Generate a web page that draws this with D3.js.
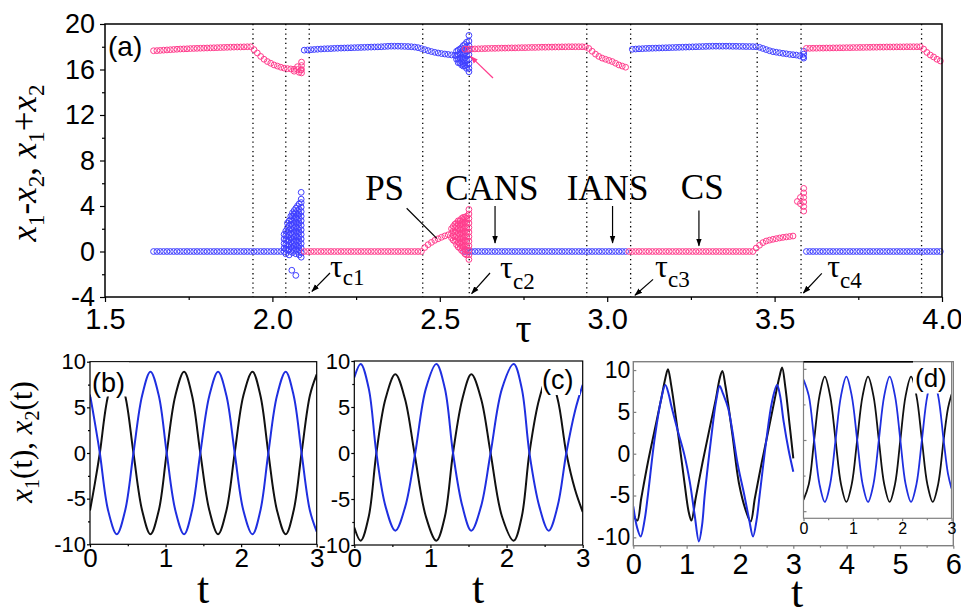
<!DOCTYPE html>
<html><head><meta charset="utf-8">
<script src="https://cdn.jsdelivr.net/npm/d3@7"></script>
<style>body{margin:0;background:#fff}svg{display:block}</style>
</head><body>
<svg id="chart" width="961" height="610"></svg>
<script>
// ================= DATA =================
const tauStep = 0.01;
const transitions = [1.942, 2.04, 2.11, 2.449, 2.588, 2.939, 3.07, 3.448, 3.579, 3.939];
const xTicksA = [1.5, 2.0, 2.5, 3.0, 3.5, 4.0];
const yTicksA = [-4, 0, 4, 8, 12, 16, 20];

// pink (upper branch)
const pinkTopAStart = 1.645;
const pinkTopA = [17.65,17.66,17.68,17.70,17.72,17.74,17.76,17.78,17.80,17.81,17.82,17.84,17.85,17.86,17.87,17.88,17.89,17.90,17.91,17.92,17.93,17.94,17.95,17.96,17.97,17.98,17.98,17.99,18.00,18.00,17.75,17.45,17.15,16.90,16.70,16.55,16.40,16.30,16.20,16.12,16.08,16.05,16.02,16.00,15.95];
const pinkTopAExtra = [[2.087,16.65],[2.087,16.35],[2.087,16.0],[2.087,15.7],[2.075,16.25],[2.065,15.85],[2.08,15.75]];
const pinkTopCStart = 2.575;
const pinkTopC = [17.78,17.79,17.80,17.81,17.82,17.83,17.84,17.85,17.86,17.86,17.87,17.88,17.88,17.89,17.90,17.90,17.91,17.92,17.92,17.93,17.94,17.94,17.95,17.96,17.96,17.97,17.97,17.98,17.98,17.99,17.99,18.00,18.00,18.00,18.00,18.00,17.98,17.85,17.60,17.35,17.15,17.00,16.90,16.80,16.70,16.55,16.40,16.30,16.20];
const pinkTopEStart = 3.595;
const pinkTopE = [17.86,17.86,17.87,17.87,17.88,17.88,17.89,17.89,17.90,17.90,17.91,17.91,17.92,17.92,17.93,17.93,17.94,17.94,17.95,17.95,17.96,17.96,17.97,17.97,17.98,17.98,17.98,17.99,17.99,17.99,18.00,18.00,18.00,18.00,18.00,17.80,17.50,17.27,17.10,16.90,16.75];
// pink (lower branch)
const pinkLowBStart = 2.095;
const pinkLowB = [0,0,0,0,0,0,0,0,0,0,0,0,0,0,0,0,0,0,0,0,0,0,0,0,0,0,0,0,0,0,0,0,0,0,0,0,0.35,0.60,0.80,0.98,1.12,1.25,1.37,1.47];
const pinkLowFan = [
  [2.535,[1.2,1.6,2.0]],
  [2.54,[1.0,1.4,1.8,2.2]],
  [2.545,[0.9,1.3,1.7,2.1,2.4]],
  [2.55,[0.6,1.0,1.4,1.8,2.2,2.5]],
  [2.555,[0.4,0.8,1.2,1.6,2.0,2.4,2.7]],
  [2.56,[0.3,0.7,1.1,1.5,1.9,2.3,2.7]],
  [2.565,[0.1,0.5,0.9,1.3,1.7,2.1,2.5,2.9]],
  [2.57,[0.0,0.4,0.8,1.2,1.6,2.0,2.4,2.8,3.0]],
  [2.575,[-0.2,0.2,0.6,1.0,1.4,1.8,2.2,2.6,3.0]],
  [2.58,[-0.3,0.1,0.5,0.9,1.3,1.7,2.1,2.5,2.9,3.1]],
  [2.587,[-0.7,-0.3,0.1,0.5,0.9,1.3,1.7,2.1,2.5,2.9,3.3,3.7]]
];
const pinkLowDStart = 3.065;
const pinkLowD = [0,0,0,0,0,0,0,0,0,0,0,0,0,0,0,0,0,0,0,0,0,0,0,0,0,0,0,0,0,0,0,0,0,0,0,0,0,0,0.30,0.55,0.78,0.92,1.00,1.07,1.13,1.19,1.24,1.28,1.32,1.36];
const pinkLowCluster = [[3.587,5.55],[3.587,5.15],[3.587,4.75],[3.587,4.35],[3.587,3.95],[3.587,3.55],[3.568,4.4],[3.577,4.75],[3.577,4.2]];

// blue
const blueLowAStart = 1.645;
const blueLowA = [0,0,0,0,0,0,0,0,0,0,0,0,0,0,0,0,0,0,0,0,0,0,0,0,0,0,0,0,0,0,0,0,0,0,0,0,0,0,0];
const blueBurst = [
  [2.035,[0.0,0.3,0.7,1.1,1.5]],
  [2.04,[-0.2,0.2,0.6,1.0,1.4,1.8]],
  [2.045,[0.1,0.5,0.9,1.3,1.7,2.1,2.5]],
  [2.05,[-0.3,0.2,0.6,1.0,1.5,1.9,2.3,2.7]],
  [2.055,[0.0,0.4,0.8,1.2,1.6,2.0,2.4,2.8,3.1]],
  [2.06,[-0.1,0.3,0.7,1.1,1.5,1.9,2.3,2.7,3.1,3.4]],
  [2.065,[0.1,0.5,0.9,1.3,1.7,2.1,2.5,2.9,3.3,3.6]],
  [2.07,[-0.2,0.2,0.6,1.0,1.4,1.8,2.2,2.6,3.0,3.4,3.8]],
  [2.075,[0.0,0.4,0.8,1.2,1.6,2.0,2.4,2.8,3.2,3.6,4.0]],
  [2.08,[-0.3,0.1,0.5,0.9,1.3,1.7,2.1,2.5,2.9,3.3,3.7,4.2]],
  [2.086,[-0.5,-0.1,0.3,0.7,1.1,1.5,1.9,2.3,2.7,3.1,3.5,3.9,4.3,4.6,5.2]]
];
const blueBurstOut = [[2.058,-1.65],[2.07,-2.1]];
const blueTopBStart = 2.095;
const blueTopB = [17.70,17.72,17.74,17.76,17.78,17.80,17.82,17.83,17.84,17.86,17.87,17.88,17.89,17.90,17.91,17.92,17.93,17.94,17.95,17.96,17.97,17.98,17.99,18.00,18.02,18.04,18.05,18.05,18.05,18.04,18.03,18.02,18.00,17.97,17.92,17.84,17.75,17.66,17.58,17.51,17.45,17.40,17.36,17.32,17.28,17.25];
const blueTopFan = [
  [2.55,[16.9,17.2,17.6]],
  [2.555,[16.6,16.9,17.3,17.7]],
  [2.56,[16.6,17.0,17.4,17.8]],
  [2.565,[16.4,16.7,17.1,17.5,17.9]],
  [2.57,[16.3,16.5,16.9,17.3,17.7,18.1]],
  [2.575,[16.3,16.6,17.0,17.4,17.8,18.2]],
  [2.58,[16.1,16.4,16.8,17.2,17.6,18.0,18.4]],
  [2.587,[15.8,16.1,16.5,16.9,17.3,17.7,18.1,18.5,19.0]]
];
const blueLowCStart = 2.575;
const blueLowC = [0,0,0,0,0,0,0,0,0,0,0,0,0,0,0,0,0,0,0,0,0,0,0,0,0,0,0,0,0,0,0,0,0,0,0,0,0,0,0,0,0,0,0,0,0,0,0,0,0];
const blueTopDStart = 3.075;
const blueTopD = [17.78,17.80,17.82,17.83,17.85,17.86,17.87,17.88,17.89,17.90,17.91,17.92,17.93,17.94,17.95,17.96,17.97,17.98,17.99,18.00,18.01,18.02,18.03,18.04,18.05,18.05,18.05,18.05,18.05,18.05,18.04,18.04,18.03,18.03,18.02,18.02,18.01,18.00,17.95,17.85,17.75,17.65,17.57,17.52,17.47,17.42,17.38,17.33,17.30,17.27,17.20,17.10];
const blueTopDExtra = [[3.587,17.0],[3.587,17.35],[3.587,17.6]];
const blueLowEStart = 3.595;
const blueLowE = [0,0,0,0,0,0,0,0,0,0,0,0,0,0,0,0,0,0,0,0,0,0,0,0,0,0,0,0,0,0,0,0,0,0,0,0,0,0,0,0,0];

// bottom panels: [t, value]
const tTicks3 = [0,1,2,3];
const tTicks6 = [0,1,2,3,4,5,6];
const xyTicks = [-10,-5,0,5,10];
const bBlack = [[0,-6.3],[0.065,-3.3],[0.13,0],[0.24,6.3],[0.355,8.9],[0.465,6.3],[0.575,0],[0.69,-6.3],[0.80,-8.9],[0.91,-6.3],[1.015,0],[1.13,6.3],[1.245,8.9],[1.35,6.3],[1.46,0],[1.58,-6.3],[1.695,-8.9],[1.805,-6.3],[1.915,0],[2.03,6.3],[2.15,8.9],[2.255,6.3],[2.36,0],[2.475,-6.3],[2.59,-8.9],[2.695,-6.3],[2.80,0],[2.91,6.3],[3.0,8.6]];
const bBlue = [[0,6.4],[0.065,3.3],[0.13,0],[0.24,-6.3],[0.355,-8.9],[0.465,-6.3],[0.575,0],[0.69,6.3],[0.80,8.9],[0.91,6.3],[1.015,0],[1.13,-6.3],[1.245,-8.9],[1.35,-6.3],[1.46,0],[1.58,6.3],[1.695,8.9],[1.805,6.3],[1.915,0],[2.03,-6.3],[2.15,-8.9],[2.255,-6.3],[2.36,0],[2.475,6.3],[2.59,8.9],[2.695,6.3],[2.80,0],[2.91,-6.3],[3.0,-8.6]];
const cBlack = [[0,-8.1],[0.084,-9.53],[0.19,-6.9],[0.29,0],[0.41,5.9],[0.539,8.55],[0.665,5.9],[0.79,0],[0.94,-6.9],[1.078,-9.53],[1.19,-6.9],[1.297,0],[1.42,5.9],[1.537,8.55],[1.665,5.9],[1.79,0],[1.94,-6.9],[2.094,-9.53],[2.20,-6.9],[2.30,0],[2.43,5.9],[2.553,8.55],[2.67,5.9],[2.785,0],[2.90,-4.0],[3.0,-6.4]];
const cBlue = [[0,8.2],[0.084,9.67],[0.19,7.0],[0.29,0],[0.41,-5.8],[0.539,-8.44],[0.67,-5.8],[0.80,0],[0.94,7.0],[1.078,9.67],[1.19,7.0],[1.297,0],[1.42,-5.8],[1.537,-8.44],[1.665,-5.8],[1.79,0],[1.94,7.0],[2.094,9.67],[2.20,7.0],[2.30,0],[2.43,-5.8],[2.553,-8.44],[2.67,-5.8],[2.785,0],[2.90,4.6],[3.0,7.4]];
const dBlack = [[0,-7.3],[0.075,-8.0],[0.15,-5.3],[0.275,-1.0],[0.40,2.8],[0.525,6.6],[0.60,9.0],[0.65,10.1],[0.71,8.2],[0.84,2.4],[0.96,-3.5],[1.04,-7.0],[1.09,-8.0],[1.17,-5.3],[1.30,-1.0],[1.43,3.0],[1.55,6.6],[1.62,9.0],[1.67,9.9],[1.73,8.0],[1.86,2.2],[1.98,-3.5],[2.12,-7.0],[2.20,-8.1],[2.28,-5.3],[2.41,-1.0],[2.54,3.0],[2.66,6.8],[2.74,9.2],[2.79,10.3],[2.85,8.0],[2.93,3.5],[3.0,-0.55]];
const dBlue = [[0,-6.3],[0.07,-8.8],[0.138,-9.9],[0.21,-8.0],[0.275,-4.9],[0.40,1.8],[0.525,6.6],[0.60,8.2],[0.66,7.2],[0.71,5.8],[0.84,2.6],[0.96,-0.2],[1.06,-3.4],[1.15,-7.3],[1.23,-10.5],[1.29,-8.5],[1.34,-4.9],[1.46,1.85],[1.55,6.2],[1.62,8.1],[1.68,7.2],[1.78,5.4],[1.96,-1.35],[2.08,-4.9],[2.17,-7.8],[2.245,-9.9],[2.31,-8.0],[2.37,-4.9],[2.49,1.4],[2.60,6.2],[2.695,8.2],[2.75,7.0],[2.82,3.8],[2.91,0.5],[3.0,-2.15]];
const insetBlack = [[0,-8.4],[0.108,-6.2],[0.216,0],[0.324,6.2],[0.432,8.9],[0.54,6.2],[0.65,0],[0.76,-6.2],[0.869,-8.7],[0.978,-6.2],[1.088,0],[1.198,6.2],[1.308,8.9],[1.418,6.2],[1.527,0],[1.636,-6.2],[1.746,-8.7],[1.855,-6.2],[1.963,0],[2.07,6.2],[2.18,8.9],[2.29,6.2],[2.40,0],[2.51,-6.2],[2.62,-8.7],[2.73,-6.2],[2.84,0],[2.93,4.5],[3.0,6.4]];
const insetBlue = [[0,8.5],[0.108,6.2],[0.216,0],[0.324,-6.2],[0.432,-8.7],[0.54,-6.2],[0.65,0],[0.76,6.2],[0.869,8.9],[0.978,6.2],[1.088,0],[1.198,-6.2],[1.308,-8.7],[1.418,-6.2],[1.527,0],[1.636,6.2],[1.746,8.9],[1.855,6.2],[1.963,0],[2.07,-6.2],[2.18,-8.7],[2.29,-6.2],[2.40,0],[2.51,6.2],[2.62,8.9],[2.73,6.2],[2.84,0],[2.93,-4.8],[3.0,-6.8]];

// ================= DRAW =================
const SANS = '"Liberation Sans", Arial, Helvetica, sans-serif';
const SERIF = '"Liberation Serif", "Times New Roman", Times, serif';
const PINK = '#ff3d8d', BLUE = '#4040ff', LBLUE = '#1f2fe0';
const svg = d3.select('#chart');
const defs = svg.append('defs');
function marker(id, color){
  defs.append('marker').attr('id',id).attr('viewBox','0 0 10 10').attr('refX',9).attr('refY',5)
    .attr('markerWidth',8).attr('markerHeight',8).attr('markerUnits','userSpaceOnUse').attr('orient','auto')
    .append('path').attr('d','M0,1.5 L10,5 L0,8.5 Z').attr('fill',color);
}
marker('ah','#000'); marker('ahp',PINK);

function seg(start, vals){ return vals.map((v,i)=>[start+i*tauStep, v]); }
function cols(c){ return c.flatMap(([t,vs])=>vs.map(v=>[t,v])); }

// ---------- panel (a)
const xA = d3.scaleLinear().domain([1.5,4.0]).range([105,942]);
const yA = d3.scaleLinear().domain([-4,20]).range([297,24]);
const gA = svg.append('g');

gA.selectAll('line.tr').data(transitions).join('line').attr('class','tr')
  .attr('x1',d=>xA(d)).attr('x2',d=>xA(d)).attr('y1',yA(20)).attr('y2',yA(-4))
  .attr('stroke','#000').attr('stroke-width',1.3).attr('stroke-dasharray','1.3,3.4');

const pinkPts = [...seg(pinkTopAStart,pinkTopA), ...pinkTopAExtra, ...seg(pinkTopCStart,pinkTopC), ...seg(pinkTopEStart,pinkTopE),
  ...seg(pinkLowBStart,pinkLowB), ...cols(pinkLowFan), ...seg(pinkLowDStart,pinkLowD), ...pinkLowCluster];
const bluePts = [...seg(blueLowAStart,blueLowA), ...cols(blueBurst), ...blueBurstOut, ...seg(blueTopBStart,blueTopB), ...cols(blueTopFan),
  ...seg(blueLowCStart,blueLowC), ...seg(blueTopDStart,blueTopD), ...blueTopDExtra, ...seg(blueLowEStart,blueLowE)];
function drawPts(pts, color){
  gA.append('g').selectAll('circle').data(pts).join('circle')
    .attr('cx',d=>xA(d[0])).attr('cy',d=>yA(d[1])).attr('r',2.9)
    .attr('fill','none').attr('stroke',color).attr('stroke-width',1);
}
drawPts(bluePts, BLUE);
drawPts(pinkPts, PINK);

function styleAxis(g, size, fam){
  g.select('.domain').remove();
  g.selectAll('line').attr('stroke','#000').attr('stroke-width',1.2);
  g.selectAll('text').attr('font-size',size).attr('font-family',fam||SANS).attr('fill','#000');
}
gA.append('g').attr('transform',`translate(0,${yA(-4)})`)
  .call(d3.axisBottom(xA).tickValues(xTicksA).tickFormat(d3.format('.1f')).tickSize(5).tickPadding(6))
  .call(g=>styleAxis(g,29));
gA.append('g').attr('transform',`translate(0,${yA(-4)})`)
  .call(d3.axisBottom(xA).tickValues([1.75,2.25,2.75,3.25,3.75]).tickFormat('').tickSize(3))
  .call(g=>styleAxis(g,10));
gA.append('g').attr('transform',`translate(${xA(1.5)},0)`)
  .call(d3.axisLeft(yA).tickValues(yTicksA).tickFormat(d=>String(d)).tickSize(5).tickPadding(5))
  .call(g=>styleAxis(g,27));
gA.append('g').attr('transform',`translate(${xA(1.5)},0)`)
  .call(d3.axisLeft(yA).tickValues([-2,2,6,10,14,18]).tickFormat('').tickSize(3))
  .call(g=>styleAxis(g,10));
gA.append('rect').attr('x',xA(1.5)).attr('y',yA(20)).attr('width',xA(4)-xA(1.5)).attr('height',yA(-4)-yA(20))
  .attr('fill','none').attr('stroke','#000').attr('stroke-width',1.5);

// labels panel (a)
gA.append('text').attr('x',108).attr('y',56).attr('font-family',SANS).attr('font-size',28).text('(a)');
gA.append('text').attr('x',(xA(1.5)+xA(4))/2).attr('y',342).attr('text-anchor','middle')
  .attr('font-family',SERIF).attr('font-size',40).text('τ');
function subLabel(g, x, y, parts, size, subSize, shift){
  const t = g.append('text').attr('transform',`translate(${x},${y}) rotate(-90)`).attr('text-anchor','middle')
    .attr('font-family',SERIF).attr('font-size',size);
  let cur = 0;
  parts.forEach(([s,type])=>{
    const sp = t.append('tspan').text(s);
    if(type==='i'){ sp.attr('font-style','italic'); }
    const target = type==='s' ? shift : 0;
    if(type==='s') sp.attr('font-size',subSize);
    if(target!==cur){ sp.attr('dy',target-cur); cur=target; }
  });
}
subLabel(gA, 36, 163, [['x','i'],['1','s'],['-','n'],['x','i'],['2','s'],[', ','n'],['x','i'],['1','s'],['+','n'],['x','i'],['2','s']], 35, 23, 8);

// annotations
const txt = (x,y,s,size)=>gA.append('text').attr('x',x).attr('y',y).attr('font-family',SERIF).attr('font-size',size).text(s);
txt(xA(2.277), yA(4.53), 'PS', 35);
txt(xA(2.516), yA(4.53), 'CANS', 35);
txt(xA(2.879), yA(4.53), 'IANS', 35);
txt(xA(3.22), yA(4.6), 'CS', 35);
const seglin = (a,b,mk,col)=>{ const l=gA.append('line').attr('x1',xA(a[0])).attr('y1',yA(a[1])).attr('x2',xA(b[0])).attr('y2',yA(b[1]))
  .attr('stroke',col||'#000').attr('stroke-width',1.2); if(mk) l.attr('marker-end',`url(#${mk})`); };
seglin([2.401,3.8],[2.491,1.16]);
seglin([2.665,4.0],[2.665,0.75],'ah');
seglin([3.016,4.0],[3.016,0.75],'ah');
seglin([3.274,3.6],[3.274,0.5],'ah');
seglin([2.172,-1.89],[2.118,-3.5],'ah');
seglin([2.65,-1.89],[2.595,-3.7],'ah');
seglin([3.137,-2.45],[3.083,-3.85],'ah');
seglin([3.641,-1.92],[3.586,-3.65],'ah');
seglin([2.659,15.25],[2.592,17.15],'ahp',PINK);
function tauC(t, v, sub, dy){
  const tx = gA.append('text').attr('x',xA(t)).attr('y',yA(v)).attr('font-family',SERIF).attr('font-size',32);
  tx.append('tspan').text('τ');
  tx.append('tspan').attr('font-size',23).attr('dy',dy).text(sub);
}
tauC(2.172,-2.2,'c1',8);
tauC(2.68,-2.3,'c2',11);
tauC(3.143,-2.2,'c3',10);
tauC(3.657,-2.2,'c4',11);

// ---------- bottom panels
const line = (x,y)=>d3.line().x(d=>x(d[0])).y(d=>y(d[1])).curve(d3.curveCatmullRom.alpha(0.5));
function panel(cfg){
  const g = svg.append('g');
  const x = d3.scaleLinear().domain(cfg.xd).range(cfg.xr);
  const y = d3.scaleLinear().domain(cfg.yd).range(cfg.yr);
  const col = cfg.frame || '#000';
  const ax = g.append('g').attr('transform',`translate(0,${cfg.yr[0]})`)
    .call(d3.axisBottom(x).tickValues(cfg.xt).tickFormat(d=>String(d)).tickSize(3).tickPadding(cfg.xpad))
    .call(s=>styleAxis(s,cfg.xfs));
  ax.selectAll('line').attr('stroke',col);
  const axm = g.append('g').attr('transform',`translate(0,${cfg.yr[0]})`)
    .call(d3.axisBottom(x).tickValues(cfg.xm).tickFormat('').tickSize(2)).call(s=>styleAxis(s,10));
  axm.selectAll('line').attr('stroke',col);
  const ay = g.append('g').attr('transform',`translate(${cfg.xr[0]},0)`)
    .call(d3.axisLeft(y).tickValues(cfg.yt).tickFormat(cfg.ylab===false?'':(d=>String(d))).tickSize(cfg.yts).tickPadding(cfg.ypad))
    .call(s=>styleAxis(s,cfg.yfs));
  ay.selectAll('line').attr('stroke',col);
  const aym = g.append('g').attr('transform',`translate(${cfg.xr[0]},0)`)
    .call(d3.axisLeft(y).tickValues(cfg.ym).tickFormat('').tickSize(cfg.yts>0?2:-2)).call(s=>styleAxis(s,10));
  aym.selectAll('line').attr('stroke',col);
  const clipId = 'clip'+cfg.id;
  g.append('clipPath').attr('id',clipId).append('rect').attr('x',cfg.xr[0]).attr('y',cfg.yr[1]).attr('width',cfg.xr[1]-cfg.xr[0]).attr('height',cfg.yr[0]-cfg.yr[1]);
  const cg = g.append('g').attr('clip-path',`url(#${clipId})`);
  cfg.series.forEach(([data,color])=>{
    cg.append('path').datum(data).attr('d',line(x,y)).attr('fill','none').attr('stroke',color).attr('stroke-width',cfg.lw||2);
  });
  g.append('rect').attr('x',cfg.xr[0]).attr('y',cfg.yr[1]).attr('width',cfg.xr[1]-cfg.xr[0]).attr('height',cfg.yr[0]-cfg.yr[1])
    .attr('fill','none').attr('stroke',col).attr('stroke-width',cfg.fw||1.2);
  return {g,x,y};
}
panel({id:'b',xd:[0,3],xr:[90,316.7],yd:[-10,10],yr:[544.3,361.7],xt:tTicks3,xm:[0.5,1.5,2.5],yt:xyTicks,ym:[-7.5,-2.5,2.5,7.5],
  xfs:26,xpad:1,yfs:22,yts:3,ypad:1,series:[[bBlack,'#111'],[bBlue,LBLUE]]});
panel({id:'c',xd:[0,3],xr:[354.3,582.7],yd:[-10,10],yr:[545,361],xt:tTicks3,xm:[0.5,1.5,2.5],yt:xyTicks,ym:[-7.5,-2.5,2.5,7.5],
  xfs:26,xpad:1,yfs:22,yts:3,ypad:1,series:[[cBlack,'#111'],[cBlue,LBLUE]]});
panel({id:'d',xd:[0,6],xr:[633.3,953.3],yd:[-11,11],yr:[545.7,361.7],xt:tTicks6,xm:[0.5,1.5,2.5,3.5,4.5,5.5],yt:xyTicks,ym:[-7.5,-2.5,2.5,7.5],
  xfs:29,xpad:5,yfs:23,yts:-3,ypad:3,frame:'#808080',fw:1.4,series:[[dBlack,'#111'],[dBlue,LBLUE]]});
panel({id:'i',xd:[0,3],xr:[803.5,951.5],yd:[-11,11],yr:[518.3,361.7],xt:tTicks3,xm:[0.5,1.5,2.5],yt:[-10,0,10],ym:[-5,5],ylab:false,
  xfs:16,xpad:1,yfs:10,yts:-3,ypad:2,frame:'#808080',fw:1.2,lw:1.8,series:[[insetBlack,'#111'],[insetBlue,LBLUE]]});

function plabel(x,y,w,h,tx,ty,s,fs){
  svg.append('rect').attr('x',x).attr('y',y).attr('width',w).attr('height',h).attr('fill','#fff');
  svg.append('text').attr('x',tx).attr('y',ty).attr('font-family',SANS).attr('font-size',fs).text(s);
}
plabel(91,362.5,38,34,92,392,'(b)',27);
plabel(542,366,38,29,542,389,'(c)',27);
plabel(913,362.5,38,31,915,387,'(d)',26);
svg.append('line').attr('x1',803.5).attr('x2',913).attr('y1',361.7).attr('y2',361.7).attr('stroke','#000').attr('stroke-width',1.4);

[[203,603],[478,603],[797,607]].forEach(([x,y])=>{
  svg.append('text').attr('x',x).attr('y',y).attr('text-anchor','middle').attr('font-family',SERIF).attr('font-size',44).text('t');
});
subLabel(svg, 32, 442, [['x','i'],['1','s'],['(t), ','n'],['x','i'],['2','s'],['(t)','n']], 31, 20, 7);
</script>
</body></html>
